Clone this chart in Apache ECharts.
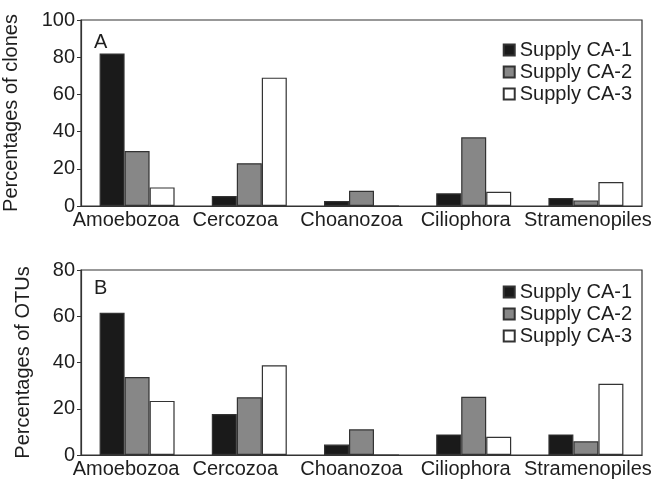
<!DOCTYPE html>
<html>
<head>
<meta charset="utf-8">
<script src="https://cdn.jsdelivr.net/npm/echarts@6/dist/echarts.min.js"></script>
<style>
  html, body { margin: 0; padding: 0; background: #fff; }
  #chart { width: 653px; height: 482px; }
</style>
</head>
<body>
<div id="chart"></div>
<script>
const categories = ['Amoebozoa', 'Cercozoa', 'Choanozoa', 'Ciliophora', 'Stramenopiles']
const seriesNames = ['Supply CA-1', 'Supply CA-2', 'Supply CA-3']

// panel A: percentages of clones
const clonesCA1 = [82, 5.4, 2.7, 6.8, 4.3]
const clonesCA2 = [29.6, 23, 8.2, 36.9, 3]
const clonesCA3 = [10, 69, 0, 7.7, 12.9]

// panel B: percentages of OTUs
const otusCA1 = [61.5, 17.7, 4.5, 8.9, 8.9]
const otusCA2 = [33.7, 25, 11.1, 25.2, 5.9]
const otusCA3 = [23.4, 38.8, 0, 7.9, 30.8]

// the category labels in the original sit a bit off the bar groups (px, + is left)
const labelShift = [11, 14, 10, 8, -2]

const fills = ['#1a1a1a', '#878787', '#ffffff']
const lineColor = '#333333'
const textColor = '#1e1e1e'
const font = 'Liberation Sans, Arial, sans-serif'

const chart = echarts.init(document.getElementById('chart'))

function xAxisFor(gridIndex) {
  return {
    type: 'category',
    gridIndex,
    data: categories.map((name, i) => {
      const s = labelShift[i]
      return {
        value: name,
        textStyle: { padding: s >= 0 ? [0, 2 * s, 0, 0] : [0, 0, 0, -2 * s] }
      }
    }),
    axisTick: { show: false },
    axisLine: { lineStyle: { color: lineColor, width: 1.2 } },
    axisLabel: { color: textColor, fontSize: 20, fontFamily: font, margin: 4, interval: 0 }
  }
}

function yAxisFor(gridIndex, max, name, nameGap) {
  return {
    type: 'value',
    gridIndex,
    min: 0,
    max,
    interval: 20,
    name,
    nameLocation: 'middle',
    nameGap,
    nameTextStyle: { color: textColor, fontSize: 20, fontFamily: font },
    splitLine: { show: false },
    axisLine: { show: true, lineStyle: { color: lineColor, width: 1.2 } },
    axisTick: { show: true, length: 4, lineStyle: { color: lineColor } },
    axisLabel: { color: textColor, fontSize: 20, fontFamily: font, margin: 6 }
  }
}

function barsFor(axisIndex, values) {
  return values.map((data, i) => ({
    name: seriesNames[i],
    type: 'bar',
    xAxisIndex: axisIndex,
    yAxisIndex: axisIndex,
    data,
    barWidth: 25,
    barGap: '0%',
    itemStyle: { color: fills[i], borderColor: lineColor, borderWidth: 1.2 }
  }))
}

function legendFor(top) {
  return {
    orient: 'vertical',
    right: 16,
    top,
    itemWidth: 11,
    itemHeight: 11,
    itemGap: 2,
    icon: 'rect',
    textStyle: { color: textColor, fontSize: 20, fontFamily: font, lineHeight: 20 },
    data: seriesNames
  }
}

const option = {
  animation: false,
  textStyle: { fontFamily: font },
  title: [
    { text: 'A', left: 89, top: 27, textStyle: { color: textColor, fontSize: 20, fontWeight: 'normal', fontFamily: font } },
    { text: 'B', left: 89, top: 273, textStyle: { color: textColor, fontSize: 20, fontWeight: 'normal', fontFamily: font } }
  ],
  legend: [
    Object.assign(legendFor(35), { id: 'legA' }),
    Object.assign(legendFor(277), { id: 'legB' })
  ],
  grid: [
    { left: 81, right: 11, top: 20, height: 186, outerBoundsMode: 'none', containLabel: false, show: true, borderColor: lineColor, borderWidth: 1.2, backgroundColor: 'transparent' },
    { left: 81, right: 11, top: 270, height: 185, outerBoundsMode: 'none', containLabel: false, show: true, borderColor: lineColor, borderWidth: 1.2, backgroundColor: 'transparent' }
  ],
  xAxis: [xAxisFor(0), xAxisFor(1)],
  yAxis: [
    yAxisFor(0, 100, 'Percentages of clones', 60),
    yAxisFor(1, 80, 'Percentages of OTUs', 48)
  ],
  series: [
    ...barsFor(0, [clonesCA1, clonesCA2, clonesCA3]),
    ...barsFor(1, [otusCA1, otusCA2, otusCA3])
  ]
}

chart.setOption(option)
</script>
</body>
</html>
